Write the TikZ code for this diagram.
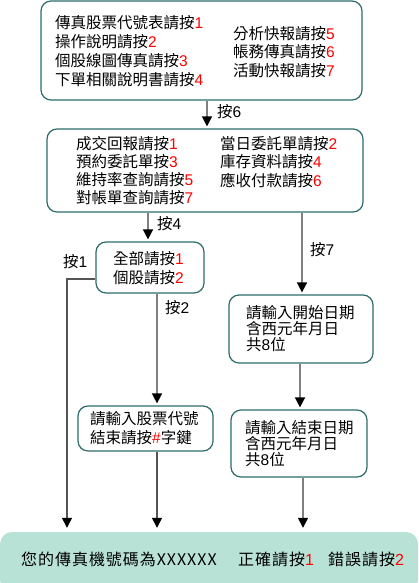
\documentclass[tikz,border=0pt]{standalone}
\usepackage{fontspec}
\setmainfont{Noto Sans CJK TC}
\newfontfamily\lat{Liberation Sans}
\newfontfamily\cjsp[LetterSpace=6]{Noto Sans CJK TC}
\usetikzlibrary{arrows.meta}
\definecolor{bord}{HTML}{2D6B6B}
\definecolor{bfill}{HTML}{B8E2D6}
\definecolor{lgray}{HTML}{808080}
\definecolor{dgray}{HTML}{555555}
\newcommand\rn[1]{{\lat\color{red}#1}}
\newcommand\dg[1]{{\lat #1}}
\begin{document}
\begin{tikzpicture}[x=1pt,y=-1pt,
 box/.style={draw=bord,line width=1.2pt,rounded corners=10pt,inner sep=0pt},
 txt/.style={inner sep=0pt,anchor=west,align=left},
 lbl/.style={inner sep=0pt,anchor=west,font=\fontsize{15.5}{19}\selectfont},
 arr/.style={draw=lgray,line width=1.5pt,-{Triangle[width=10pt,length=10pt,color=black]},shorten >=2pt},
 arrb/.style={arr,shorten >=4pt}]
\useasboundingbox (0,0) rectangle (418,583);
% boxes
\node[box,minimum width=321pt,minimum height=99pt] (b1) at (201.5,50.5) {};
\node[box,minimum width=316pt,minimum height=83pt] (b2) at (205,170.5) {};
\node[box,minimum width=108pt,minimum height=51pt] (b3) at (150,267.5) {};
\node[box,minimum width=144pt,minimum height=68pt] (b4) at (301,329) {};
\node[box,minimum width=135pt,minimum height=45pt] (b5) at (145.5,428.5) {};
\node[box,minimum width=136pt,minimum height=67pt] (b6) at (299,443.5) {};
\node[fill=bfill,rounded corners=12pt,minimum width=418pt,minimum height=60pt,inner sep=0pt] (b7) at (209,562) {};
% texts
\node[txt,font=\fontsize{15.5}{19}\selectfont] (t1a) at (55,51.5) {傳真股票代號表請按\rn{1}\\操作說明請按\rn{2}\\個股線圖傳真請按\rn{3}\\下單相關說明書請按\rn{4}};
\node[txt,font=\fontsize{15.5}{18.5}\selectfont] (t1b) at (233,51.7) {分析快報請按\rn{5}\\帳務傳真請按\rn{6}\\活動快報請按\rn{7}};
\node[txt,font=\fontsize{15.5}{18}\selectfont] (t2a) at (76,170.5) {成交回報請按\rn{1}\\預約委託單按\rn{3}\\維持率查詢請按\rn{5}\\對帳單查詢請按\rn{7}};
\node[txt,font=\fontsize{15.5}{18.5}\selectfont] (t2b) at (220,161.7) {當日委託單請按\rn{2}\\庫存資料請按\rn{4}\\應收付款請按\rn{6}};
\node[txt,font=\fontsize{15.5}{19}\selectfont] (t3) at (113,268.5) {全部請按\rn{1}\\個股請按\rn{2}};
\node[txt,font=\fontsize{15.5}{16}\selectfont] (t4) at (246,329) {請輸入開始日期\\含西元年月日\\共\dg{8}位};
\node[txt,font=\fontsize{15.5}{19}\selectfont] (t5) at (90,428.5) {請輸入股票代號\\結束請按\rn{\#}字鍵};
\node[txt,font=\fontsize{15.5}{16}\selectfont] (t6) at (245,443.3) {請輸入結束日期\\含西元年月日\\共\dg{8}位};
\node[lbl,font=\cjsp\fontsize{16}{19}\selectfont] (t7a) at (21,559) {您的傳真機號碼為XXXXXX};
\node[lbl,font=\cjsp\fontsize{16}{19}\selectfont] (t7b) at (238,559) {正確請按\rn{1}};
\node[lbl,font=\cjsp\fontsize{16}{19}\selectfont] (t7c) at (328,559) {錯誤請按\rn{2}};
% connector x positions
\coordinate (x6) at (207,0);
\coordinate (x4) at (148,0);
\coordinate (x7) at (302,0);
\coordinate (x2) at (157,0);
\coordinate (x8) at (300,0);
\coordinate (x9) at (303,0);
\coordinate (c1) at (67,279);
% connectors
\draw[arr] (b1.south -| x6) -- (b2.north -| x6);
\draw[arr] (b2.south -| x4) -- (b3.north -| x4);
\draw[arr] (b2.south -| x7) -- (b4.north -| x7);
\draw[arrb,draw=dgray] (b3.west |- c1) -- (c1) -- (b7.north -| c1);
\draw[arr] (b3.south -| x2) -- (b5.north -| x2);
\draw[arr] (b4.south -| x8) -- (b6.north -| x8);
\draw[arrb,draw=dgray] (b5.south -| x2) -- (b7.north -| x2);
\draw[arrb] (b6.south -| x9) -- (b7.north -| x9);
% labels
\node[lbl] (l6) at (217,112) {按\dg{6}};
\node[lbl] (l4) at (157,224) {按\dg{4}};
\node[lbl] (l7) at (310,250) {按\dg{7}};
\node[lbl] (l1) at (63,262) {按\dg{1}};
\node[lbl] (l2) at (165,308) {按\dg{2}};
\end{tikzpicture}
\end{document}
